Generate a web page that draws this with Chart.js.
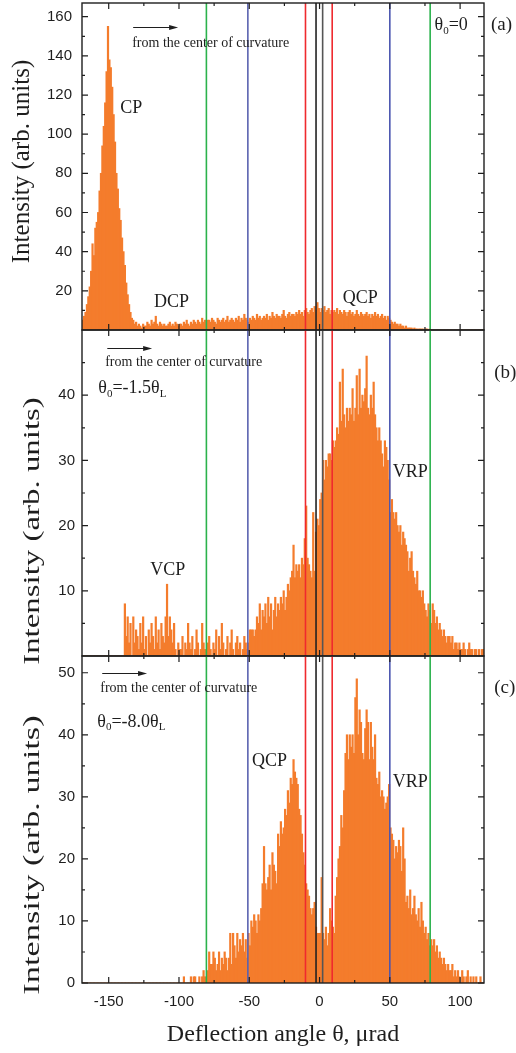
<!DOCTYPE html>
<html><head><meta charset="utf-8">
<script src="https://cdn.jsdelivr.net/npm/chart.js@4.4.1/dist/chart.umd.min.js"></script>
<style>
html,body{margin:0;padding:0;background:#fff;}
body{width:516px;height:1053px;position:relative;overflow:hidden;}
canvas{position:absolute;left:0;}
#ca{top:0;} #cb{top:320px;} #cc{top:646px;}
</style></head><body>
<canvas id="ca" width="516" height="340"></canvas>
<canvas id="cb" width="516" height="346"></canvas>
<canvas id="cc" width="516" height="407"></canvas>
<script>
// ---- histogram binning (deflection angle, µrad) ----
const BIN_START = -169;
const BIN_WIDTH = 1;

// ---- panel (a): theta0 = 0 ----
const intensityA = [
  5,7,9,13,17,22,30,44,38,52,
  55,60,71,80,94,104,116,132,155,138,
  134,124,110,96,80,72,62,56,47,40,
  33,24,18,13,9,6,5,3,4,2,
  3,2,1,3,2,2,4,3,2,5,
  3,4,7,3,2,4,3,2,3,2,
  2,3,4,2,3,2,4,3,2,3,
  3,2,4,3,5,3,2,4,3,5,
  4,3,5,4,3,6,4,5,3,5,
  5,4,6,5,4,3,6,5,4,5,
  6,4,5,7,4,5,6,5,4,6,
  5,7,4,6,5,8,6,5,4,6,
  5,7,6,5,8,6,7,5,6,7,
  6,8,5,7,6,9,7,6,8,7,
  7,6,8,10,7,6,8,9,7,8,
  8,7,9,8,10,8,9,7,10,11,
  9,8,10,11,9,12,10,14,11,9,
  11,10,12,9,10,11,8,10,9,10,
  9,11,8,10,9,8,10,9,7,9,
  10,8,9,7,8,10,8,7,9,8,
  7,8,9,7,8,6,8,7,9,7,
  8,6,7,8,6,7,5,7,6,5,
  4,3,4,3,3,2,3,2,2,1,
  2,1,1,1,1,0.5,1,0.5,0.5,0.5,
  0.5,0.5,0.5,0,0.5,0.5,0,0.5,0,0,
  0,0,0,0,0,0,0,0,0,0,
  0,0,0,0,0,0,0,0,0,0,
  0,0,0,0,0,0,0,0,0,0,
  0,0,0,0,0,0
];

// ---- panel (b): theta0 = -1.5 thetaL ----
const intensityB = [
  0,0,0,0,0,0,0,0,0,0,
  0,0,0,0,0,0,0,0,0,0,
  0,0,0,0,0,0,0,0,0,0,
  8,3,6,2,5,0,6,2,4,3,
  1,5,2,6,1,3,0,4,2,5,
  3,1,6,2,4,1,5,3,2,6,
  11,3,6,4,2,5,1,0,2,1,
  1,3,0,2,1,5,2,1,3,0,
  1,4,2,0,1,5,2,1,0,2,
  3,1,0,2,1,4,0,3,1,5,
  2,0,1,3,0,2,4,1,0,2,
  3,1,2,0,1,3,2,1,2,4,
  4,4,3,4,6,5,8,4,7,6,
  8,5,9,6,8,4,7,9,6,8,
  7,9,8,10,7,9,11,10,12,13,
  17,12,14,13,14,12,15,14,18,23,
  15,14,13,12,22,13,19,21,20,24,
  25,30,27,30,29,31,31,30,33,32,
  33,35,34,42,36,44,37,35,38,36,
  38,37,41,36,38,43,37,44,38,40,
  39,41,46,38,37,40,38,42,37,35,
  33,35,33,31,29,33,32,30,27,22,
  24,22,21,22,20,19,20,17,19,18,
  17,16,13,15,16,13,12,11,13,10,
  10,9,10,8,7,6,8,7,5,8,
  7,5,6,4,5,4,3,4,3,2,
  3,3,2,3,1,2,2,1,2,1,
  1,2,1,0,1,2,1,1,0,1,
  1,0,1,0,1,1
];

// ---- panel (c): theta0 = -8.0 thetaL ----
const intensityC = [
  0,0,0,0,0,0,0,0,0,0,
  0,0,0,0,0,0,0,0,0,0,
  0,0,0,0,0,0,0,0,0,0,
  0,0,0,0,0,0,0,0,0,0,
  0,0,0,0,0,0,0,0,0,0,
  0,0,0,0,0,0,0,0,0,0,
  0,0,0,0,0,0,0,0,0,0,
  0,0,
  1,0,0,0,0,1,0,1,
  1,0,0,1,0,1,2,1,0,2,
  5,3,3,5,4,2,3,5,2,4,
  3,5,4,2,4,8,3,8,6,4,
  8,5,7,6,8,5,7,4,8,6,
  10,9,11,10,8,11,10,12,16,22,
  16,15,17,19,15,21,19,18,16,24,
  22,26,24,25,28,27,31,29,33,32,
  36,34,33,32,28,27,24,21,19,16,
  15,14,12,11,12,13,9,8,8,8,
  17,8,7,9,6,8,12,10,9,8,
  14,17,20,22,27,25,31,37,40,36,
  40,38,40,37,46,49,40,44,42,37,
  36,41,44,42,36,42,38,36,40,33,
  32,34,30,31,30,28,29,30,32,25,
  24,23,20,22,21,23,22,18,25,20,
  13,14,12,15,11,12,14,11,10,12,
  9,13,10,8,9,7,8,6,7,6,
  7,5,6,4,5,4,3,4,3,2,
  3,2,2,3,1,2,1,2,1,0,
  2,1,0,1,2,0,1,0,1,0,
  1,0,0,1,0,0
];

// ---- axis ticks ----
const xMajorTicks = [-150, -100, -50, 0, 50, 100];
const xMinorTicks = [-125, -75, -25, 25, 75];
const yTicksA = [20, 40, 60, 80, 100, 120, 140, 160];
const yMinorA = [10, 30, 50, 70, 90, 110, 130, 150];
const yTicksB = [10, 20, 30, 40];
const yMinorB = [5, 15, 25, 35, 45];
const yTicksC = [0, 10, 20, 30, 40, 50];
const yMinorC = [5, 15, 25, 35, 45];

// ---- vertical boundary angles (µrad) ----
const boundaryAngles = [-80.5, -51, -10, -2.5, 2.2, 9, 50, 78.7];
const boundaryColors = ['#2bb24c', '#5a62b0', '#ef2a2e', '#222222', '#555555', '#ef2a2e', '#4a55b0', '#2bb24c'];

const ORANGE = '#f47c2c';
const SERIF = '"Liberation Serif", "Times New Roman", serif';
const SANS = '"Liberation Sans", Arial, sans-serif';
const INK = '#1e1e1e';

function richText(ctx, parts, x, y, size) {
  let cx = x;
  ctx.textAlign = 'left';
  ctx.textBaseline = 'middle';
  for (const [t, sub] of parts) {
    const fs = sub ? Math.round(size * 0.6) : size;
    ctx.font = fs + 'px ' + SERIF;
    ctx.fillText(t, cx, sub ? y + size * 0.32 : y);
    cx += ctx.measureText(t).width;
  }
}

function makeDeco(cfg) {
  return {
    id: 'deco_' + cfg.name,
    afterDatasetsDraw(chart) {
      const { ctx, chartArea: a, scales: { x } } = chart;
      ctx.save();
      ctx.lineWidth = 1.6;
      boundaryAngles.forEach((v, i) => {
        const px = x.getPixelForValue(v);
        ctx.strokeStyle = boundaryColors[i];
        ctx.beginPath(); ctx.moveTo(px, a.top); ctx.lineTo(px, a.bottom); ctx.stroke();
      });
      ctx.restore();
    },
    afterDraw(chart) {
      const { ctx, chartArea: a, scales: { x, y } } = chart;
      ctx.save();
      ctx.strokeStyle = INK; ctx.lineWidth = 1.4;
      ctx.strokeRect(a.left, a.top, a.right - a.left, a.bottom - a.top);
      ctx.lineWidth = 1.2;
      const xt = (vals, len) => vals.forEach(v => {
        const px = x.getPixelForValue(v);
        ctx.beginPath(); ctx.moveTo(px, a.bottom); ctx.lineTo(px, a.bottom - len);
        ctx.moveTo(px, a.top); ctx.lineTo(px, a.top + len); ctx.stroke();
      });
      xt(xMajorTicks, 6); xt(xMinorTicks, 3);
      const yt = (vals, len) => vals.forEach(v => {
        const py = y.getPixelForValue(v);
        ctx.beginPath(); ctx.moveTo(a.left, py); ctx.lineTo(a.left + len, py);
        ctx.moveTo(a.right, py); ctx.lineTo(a.right - len, py); ctx.stroke();
      });
      yt(cfg.yMajor, 6); yt(cfg.yMinor, 3);
      ctx.fillStyle = INK;
      ctx.save();
      ctx.translate(cfg.titleX, cfg.titleY);
      ctx.rotate(-Math.PI / 2);
      ctx.scale(cfg.titleStretch, 1);
      ctx.font = cfg.titleSize + 'px ' + SERIF;
      ctx.textAlign = 'center'; ctx.textBaseline = 'middle';
      ctx.fillText('Intensity (arb. units)', 0, 0);
      ctx.restore();
      const ar = cfg.arrow;
      const ax1 = x.getPixelForValue(ar.x1), ax2 = x.getPixelForValue(ar.x2), ay = Math.round(y.getPixelForValue(ar.y)) + 0.5;
      ctx.strokeStyle = INK; ctx.lineWidth = 1;
      ctx.beginPath(); ctx.moveTo(ax1, ay); ctx.lineTo(ax2 - 6, ay); ctx.stroke();
      ctx.beginPath(); ctx.moveTo(ax2, ay); ctx.lineTo(ax2 - 9, ay - 2.6); ctx.lineTo(ax2 - 9, ay + 2.6); ctx.closePath(); ctx.fill();
      cfg.labels.forEach(l => {
        richText(ctx, l.parts, x.getPixelForValue(l.x), y.getPixelForValue(l.y), l.size);
      });
      ctx.restore();
    }
  };
}

function histData(vals) {
  return vals.map((v, i) => ({ x: BIN_START + (i + 0.5) * BIN_WIDTH, y: v }));
}

function makeChart(id, vals, yMax, yMajor, yLabelPad, showX, padTop, padBottom, deco) {
  const xScale = {
    type: 'linear', min: -169, max: 117, offset: false,
    display: showX,
    grid: { display: false, drawTicks: false, offset: false },
    border: { display: false },
    afterBuildTicks: s => { s.ticks = xMajorTicks.map(v => ({ value: v })); },
    afterFit: s => { s.paddingLeft = 0; s.paddingRight = 0; if (showX) s.height = 70; },
    ticks: { font: { family: SANS, size: 15 }, color: INK, padding: 10, maxRotation: 0, autoSkip: false },
    title: { display: showX, text: 'Deflection angle θ, μrad', font: { family: SERIF, size: 24 }, color: INK, padding: { top: 0, bottom: 4 } }
  };
  return new Chart(document.getElementById(id), {
    type: 'bar',
    data: { datasets: [{ data: histData(vals), backgroundColor: ORANGE, borderWidth: 0, barPercentage: 1, categoryPercentage: 1, inflateAmount: 0.4 }] },
    options: {
      responsive: false, maintainAspectRatio: false, animation: false,
      layout: { autoPadding: false, padding: { top: padTop, right: 32, bottom: padBottom, left: 0 } },
      plugins: { legend: { display: false }, tooltip: { enabled: false } },
      scales: {
        x: xScale,
        y: {
          type: 'linear', min: 0, max: yMax,
          grid: { display: false, drawTicks: false },
          border: { display: false },
          afterBuildTicks: s => { s.ticks = yMajor.map(v => ({ value: v })); },
          afterFit: s => { s.width = 82; s.paddingTop = 0; s.paddingBottom = 0; },
          ticks: { font: { family: SANS, size: 15 }, color: INK, padding: yLabelPad, autoSkip: false }
        }
      }
    },
    plugins: [deco]
  });
}

makeChart('ca', intensityA, 167, yTicksA, 10, false, 3, 10, makeDeco({
  name: 'a', yMajor: yTicksA, yMinor: yMinorA,
  titleX: 22.5, titleY: 161.5, titleSize: 25, titleStretch: 1.0,
  arrow: { x1: -132.6, x2: -100.6, y: 154.7 },
  labels: [
    { parts: [['from the center of curvature']], x: -133.3, y: 146.5, size: 14 },
    { parts: [['θ'], ['0', 1], ['=0']], x: 81.8, y: 155.8, size: 18 },
    { parts: [['(a)']], x: 122, y: 155.8, size: 19 },
    { parts: [['CP']], x: -141.8, y: 113.4, size: 18 },
    { parts: [['DCP']], x: -117.7, y: 14.3, size: 18 },
    { parts: [['QCP']], x: 16.5, y: 16.3, size: 18 }
  ]
}));

makeChart('cb', intensityB, 50, yTicksB, 7, false, 10, 10, makeDeco({
  name: 'b', yMajor: yTicksB, yMinor: yMinorB,
  titleX: 33, titleY: 211, titleSize: 24, titleStretch: 1.37,
  arrow: { x1: -151, x2: -119.1, y: 47.2 },
  labels: [
    { parts: [['from the center of curvature']], x: -152.5, y: 45.0, size: 14 },
    { parts: [['θ'], ['0', 1], ['=-1.5θ'], ['L', 1]], x: -157.4, y: 41.1, size: 18 },
    { parts: [['(b)']], x: 124.3, y: 43.4, size: 19 },
    { parts: [['VCP']], x: -120.5, y: 13.2, size: 18 },
    { parts: [['VRP']], x: 52, y: 28.2, size: 18 }
  ]
}));

makeChart('cc', intensityC, 52.7, yTicksC, 7, true, 10, 0, makeDeco({
  name: 'c', yMajor: yTicksC, yMinor: yMinorC,
  titleX: 33, titleY: 209, titleSize: 24, titleStretch: 1.43,
  arrow: { x1: -154.6, x2: -122.7, y: 50 },
  labels: [
    { parts: [['from the center of curvature']], x: -156, y: 47.5, size: 14 },
    { parts: [['θ'], ['0', 1], ['=-8.0θ'], ['L', 1]], x: -158.1, y: 42.1, size: 18 },
    { parts: [['(c)']], x: 124.3, y: 47.5, size: 19 },
    { parts: [['QCP']], x: -48.1, y: 35.8, size: 18 },
    { parts: [['VRP']], x: 52, y: 32.4, size: 18 }
  ]
}));
</script>
</body></html>
